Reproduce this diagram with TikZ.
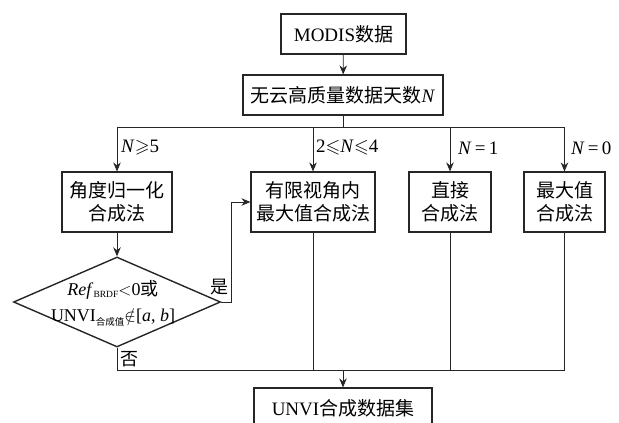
\documentclass[tikz,border=0pt]{standalone}
\usepackage{amssymb}
\usepackage{fontspec}
\setmainfont{Liberation Serif}
\newfontfamily\cjk{Noto Sans CJK SC}
\usetikzlibrary{shapes.geometric,arrows.meta}
\begin{document}
\begin{tikzpicture}[x=1pt,y=-1pt,
  box/.style={draw=black!85,line width=1.1pt,inner sep=0pt,align=center,
    font=\fontsize{19}{22.5}\selectfont},
  lbl/.style={inner sep=0pt,anchor=west,font=\fontsize{19}{22}\selectfont},
  conn/.style={draw=black!85,line width=0.8pt},
  arr/.style={conn,-{Stealth[length=9pt,width=7.5pt]}}]
\useasboundingbox (0,0) rectangle (619,423);
% boxes
\node[box,minimum width=125pt,minimum height=40pt] (modis) at (343.5,34) {MODIS{\cjk 数据}};
\node[box,minimum width=200pt,minimum height=40pt] (days) at (343,95) {{\cjk 无云高质量数据天数}\textit{N}};
\node[box,minimum width=110pt,minimum height=60pt] (angle) at (117,202) {{\cjk 角度归一化}\\{\cjk 合成法}};
\node[box,minimum width=124pt,minimum height=60pt] (limit) at (313,202) {{\cjk 有限视角内}\\{\cjk 最大值合成法}};
\node[box,minimum width=82pt,minimum height=60pt] (direct) at (450,202) {{\cjk 直接}\\{\cjk 合成法}};
\node[box,minimum width=81pt,minimum height=60pt] (maxv) at (564.5,202) {{\cjk 最大值}\\{\cjk 合成法}};
\node[draw=black!85,line width=1.4pt,diamond,inner sep=0pt,minimum width=207pt,minimum height=90pt] (dia) at (117,302) {};
\node[inner sep=0pt,align=center,font=\fontsize{18}{26}\selectfont] (diatext) at (113,303)
  {\textit{Ref}\raisebox{-0.3ex}{\fontsize{9.5}{10}\selectfont BRDF}$<$0{\cjk 或}\\
   UNVI\raisebox{-0.5ex}{\fontsize{9.5}{10}\selectfont\cjk 合成值}$\notin$[\textit{a}, \textit{b}]};
\node[box,minimum width=178pt,minimum height=40pt] (final) at (343,408) {UNVI{\cjk 合成数据集}};
% labels
\node[lbl] (l1) at (121,148) {\textit{N}$\geqslant$5};
\node[lbl] (l2) at (316,148) {2$\leqslant$\textit{N}$\leqslant$4};
\node[lbl] (l3) at (458,148) {\textit{N}\,=\,1};
\node[lbl] (l4) at (571,148) {\textit{N}\,=\,0};
\node[inner sep=0pt,font=\fontsize{18}{18}\selectfont\cjk] (yes) at (219,287) {是};
\node[inner sep=0pt,font=\fontsize{18}{18}\selectfont\cjk] (no) at (129,359) {否};
% coordinates
\coordinate (bc) at (343,127);
\coordinate (b1) at (117,127);
\coordinate (b2) at (313,127);
\coordinate (b3) at (450,127);
\coordinate (b4) at (564.5,127);
\coordinate (c1) at (117,370);
\coordinate (c2) at (313,370);
\coordinate (c3) at (450,370);
\coordinate (c4) at (564.5,370);
\coordinate (cc) at (343,370);
\coordinate (yc) at (231,302);
% connectors
\draw[arr] (modis) -- (days);
\draw[conn] (days) -- (bc);
\draw[conn] (b1) -- (b4);
\draw[arr] (b1) -- (angle);
\draw[arr] (b2) -- (limit);
\draw[arr] (b3) -- (direct);
\draw[arr] (b4) -- (maxv);
\draw[arr] (angle) -- (dia);
\draw[arr] (dia.east) -- (yc) |- (limit.west);
\draw[conn] (dia.south) -- (c1);
\draw[conn] (limit) -- (c2);
\draw[conn] (direct) -- (c3);
\draw[conn] (maxv) -- (c4);
\draw[conn] (c1) -- (c4);
\draw[arr] (cc) -- (final);
\end{tikzpicture}
\end{document}
